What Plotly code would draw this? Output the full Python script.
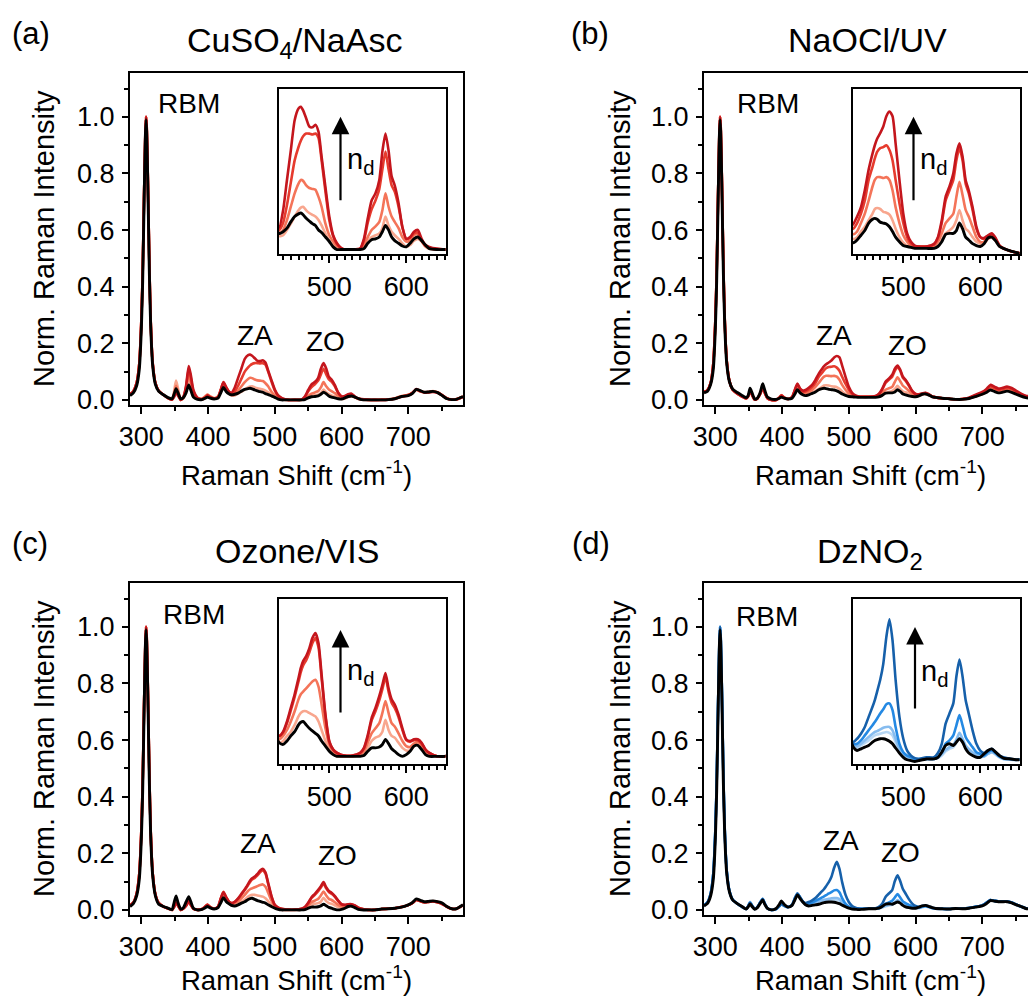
import plotly.graph_objects as go

W, H = 1028, 997

# ---------------- data ----------------
RAMAN_SHIFT = [283, 288, 293, 297, 300, 302, 304, 306, 307, 308, 310, 312, 314, 317, 321, 326, 333, 340, 346,
               349, 352, 355, 359, 363, 367, 371, 374, 378, 384, 391, 396, 399, 403, 409, 415, 419, 423, 427, 431, 435,
               440, 445, 450, 455, 460, 463, 466, 470, 474, 478, 482, 486, 490, 495, 500, 505, 510, 515, 520, 530, 540,
               545, 550, 555, 560, 565, 569, 573, 577, 581, 585, 590, 595, 600, 605, 610, 615, 620, 625, 630, 640, 650,
               660, 670, 680, 690, 700, 706, 712, 718, 724, 730, 737, 744, 751, 758, 765, 772, 782]

# (a) CuSO4/NaAsc
A_LIGHT = [0.02, 0.03, 0.06, 0.13, 0.28, 0.45, 0.71, 0.94, 1.0, 0.97, 0.75, 0.48, 0.28, 0.13, 0.06, 0.032, 0.018, 0.006, 0.001,
           0.03, 0.068, 0.04, 0.0, 0.006, 0.035, 0.08, 0.055, 0.02, 0.005, 0.004, 0.014, 0.02, 0.013, 0.006, 0.012, 0.033, 0.057, 0.04, 0.025, 0.015,
           0.016, 0.022, 0.029, 0.037, 0.044, 0.047, 0.048, 0.044, 0.041, 0.039, 0.037, 0.033, 0.027, 0.018, 0.01, 0.005, 0.002, 0.0, 0.0, 0.0, 0.0,
           0.003, 0.009, 0.014, 0.016, 0.018, 0.024, 0.037, 0.027, 0.02, 0.016, 0.012, 0.007, 0.003, 0.005, 0.01, 0.012, 0.009, 0.003, 0.001, 0.0, 0.0,
           0.001, 0.002, 0.006, 0.014, 0.018, 0.025, 0.036, 0.03, 0.028, 0.029, 0.031, 0.027, 0.016, 0.006, 0.002, 0.003, 0.012]
A_SALMON = [0.02, 0.03, 0.06, 0.13, 0.28, 0.45, 0.71, 0.94, 1.0, 0.97, 0.75, 0.48, 0.28, 0.13, 0.06, 0.032, 0.018, 0.006, 0.001,
            0.02, 0.05, 0.03, 0.0, 0.008, 0.04, 0.095, 0.065, 0.025, 0.006, 0.004, 0.012, 0.018, 0.012, 0.006, 0.012, 0.035, 0.06, 0.042, 0.028, 0.018,
            0.022, 0.033, 0.048, 0.063, 0.074, 0.078, 0.077, 0.072, 0.069, 0.068, 0.067, 0.059, 0.048, 0.029, 0.016, 0.009, 0.004, 0.001, 0.0, 0.0, 0.0,
            0.005, 0.014, 0.022, 0.026, 0.031, 0.044, 0.063, 0.048, 0.037, 0.031, 0.024, 0.014, 0.009, 0.01, 0.016, 0.017, 0.01, 0.005, 0.002, 0.0, 0.0,
            0.001, 0.002, 0.005, 0.013, 0.017, 0.024, 0.036, 0.03, 0.027, 0.028, 0.03, 0.026, 0.016, 0.005, 0.001, 0.002, 0.011]
A_RED = [0.02, 0.03, 0.06, 0.13, 0.28, 0.45, 0.71, 0.94, 1.0, 0.97, 0.75, 0.48, 0.28, 0.13, 0.06, 0.032, 0.018, 0.006, 0.001,
         0.012, 0.03, 0.018, 0.0, 0.01, 0.045, 0.11, 0.08, 0.03, 0.007, 0.003, 0.01, 0.016, 0.01, 0.005, 0.01, 0.035, 0.063, 0.045, 0.03, 0.022,
         0.03, 0.05, 0.075, 0.1, 0.115, 0.122, 0.127, 0.13, 0.13, 0.129, 0.13, 0.125, 0.1, 0.065, 0.033, 0.015, 0.006, 0.002, 0.0, 0.0, 0.001,
         0.01, 0.03, 0.045, 0.055, 0.068, 0.09, 0.11, 0.09, 0.072, 0.065, 0.048, 0.025, 0.012, 0.013, 0.018, 0.019, 0.01, 0.004, 0.002, 0.0, 0.0,
         0.0, 0.001, 0.005, 0.012, 0.017, 0.025, 0.037, 0.031, 0.027, 0.027, 0.029, 0.026, 0.016, 0.005, 0.001, 0.002, 0.011]
A_DARK = [0.02, 0.03, 0.06, 0.13, 0.28, 0.45, 0.71, 0.94, 1.0, 0.97, 0.75, 0.48, 0.28, 0.13, 0.06, 0.032, 0.018, 0.006, 0.001,
          0.01, 0.025, 0.015, 0.0, 0.01, 0.05, 0.12, 0.09, 0.035, 0.008, 0.002, 0.008, 0.015, 0.01, 0.005, 0.01, 0.035, 0.062, 0.045, 0.03, 0.025,
          0.044, 0.078, 0.111, 0.145, 0.158, 0.16, 0.156, 0.147, 0.138, 0.137, 0.14, 0.132, 0.104, 0.07, 0.037, 0.016, 0.007, 0.002, 0.0, 0.0, 0.001,
          0.012, 0.035, 0.055, 0.063, 0.078, 0.11, 0.13, 0.111, 0.082, 0.072, 0.052, 0.025, 0.012, 0.014, 0.02, 0.022, 0.012, 0.005, 0.003, 0.001, 0.0,
          0.0, 0.001, 0.004, 0.011, 0.016, 0.024, 0.038, 0.031, 0.026, 0.026, 0.028, 0.025, 0.016, 0.005, 0.001, 0.002, 0.01]
A_BLACK = [0.015, 0.025, 0.05, 0.11, 0.25, 0.42, 0.68, 0.93, 0.99, 0.95, 0.72, 0.45, 0.26, 0.12, 0.055, 0.03, 0.018, 0.008, 0.004,
           0.02, 0.04, 0.025, 0.004, 0.008, 0.025, 0.053, 0.035, 0.01, 0.002, 0.001, 0.006, 0.01, 0.006, 0.003, 0.006, 0.025, 0.044, 0.03, 0.022, 0.018,
           0.02, 0.024, 0.031, 0.037, 0.04, 0.041, 0.039, 0.035, 0.032, 0.029, 0.027, 0.022, 0.019, 0.014, 0.009, 0.003, 0.0, 0.0, 0.0, 0.0, 0.0,
           0.001, 0.007, 0.011, 0.012, 0.014, 0.02, 0.027, 0.022, 0.014, 0.01, 0.007, 0.004, 0.003, 0.007, 0.012, 0.014, 0.01, 0.005, 0.001, 0.0, 0.0,
           0.0, 0.001, 0.004, 0.012, 0.015, 0.022, 0.037, 0.033, 0.027, 0.028, 0.03, 0.026, 0.015, 0.004, 0.001, 0.002, 0.012]

# (b) NaOCl/UV
B_LIGHT = [0.028, 0.034, 0.06, 0.13, 0.28, 0.45, 0.71, 0.94, 1.0, 0.97, 0.75, 0.48, 0.29, 0.14, 0.068, 0.036, 0.022, 0.012, 0.005,
           0.013, 0.032, 0.019, 0.001, 0.005, 0.022, 0.046, 0.028, 0.007, 0.0, 0.0, 0.01, 0.017, 0.009, 0.003, 0.01, 0.028, 0.045, 0.032, 0.022, 0.019,
           0.021, 0.027, 0.032, 0.039, 0.046, 0.051, 0.052, 0.051, 0.048, 0.047, 0.045, 0.039, 0.03, 0.021, 0.015, 0.012, 0.011, 0.011, 0.011, 0.011, 0.011,
           0.012, 0.018, 0.025, 0.028, 0.032, 0.039, 0.05, 0.039, 0.03, 0.027, 0.021, 0.016, 0.014, 0.014, 0.019, 0.021, 0.017, 0.011, 0.009, 0.006, 0.004,
           0.002, 0.002, 0.005, 0.013, 0.02, 0.028, 0.038, 0.033, 0.028, 0.03, 0.034, 0.03, 0.023, 0.015, 0.01, 0.008, 0.007]
B_SALMON = [0.028, 0.034, 0.06, 0.13, 0.28, 0.45, 0.71, 0.94, 1.0, 0.97, 0.75, 0.48, 0.29, 0.14, 0.068, 0.036, 0.022, 0.012, 0.005,
            0.012, 0.03, 0.018, 0.001, 0.005, 0.02, 0.044, 0.027, 0.007, 0.0, 0.0, 0.009, 0.016, 0.009, 0.003, 0.01, 0.03, 0.05, 0.035, 0.025, 0.024,
            0.027, 0.036, 0.046, 0.06, 0.075, 0.082, 0.085, 0.085, 0.084, 0.085, 0.082, 0.071, 0.053, 0.036, 0.023, 0.016, 0.012, 0.011, 0.011, 0.011, 0.012,
            0.016, 0.025, 0.036, 0.041, 0.046, 0.064, 0.08, 0.066, 0.05, 0.043, 0.032, 0.021, 0.016, 0.016, 0.021, 0.023, 0.018, 0.012, 0.009, 0.006, 0.004,
            0.002, 0.003, 0.006, 0.014, 0.022, 0.03, 0.042, 0.037, 0.032, 0.034, 0.038, 0.034, 0.026, 0.018, 0.012, 0.01, 0.008]
B_RED = [0.028, 0.034, 0.06, 0.13, 0.28, 0.45, 0.71, 0.94, 1.0, 0.97, 0.75, 0.48, 0.29, 0.14, 0.068, 0.036, 0.022, 0.012, 0.005,
         0.012, 0.03, 0.018, 0.001, 0.005, 0.02, 0.042, 0.025, 0.006, 0.0, 0.0, 0.008, 0.015, 0.008, 0.003, 0.01, 0.033, 0.055, 0.038, 0.03, 0.03,
         0.036, 0.046, 0.06, 0.082, 0.096, 0.105, 0.112, 0.116, 0.117, 0.119, 0.114, 0.103, 0.082, 0.057, 0.036, 0.021, 0.014, 0.011, 0.011, 0.011, 0.013,
         0.02, 0.036, 0.06, 0.071, 0.082, 0.103, 0.116, 0.103, 0.078, 0.068, 0.05, 0.03, 0.021, 0.019, 0.022, 0.024, 0.019, 0.012, 0.009, 0.006, 0.004,
         0.002, 0.003, 0.007, 0.016, 0.025, 0.035, 0.048, 0.042, 0.036, 0.038, 0.042, 0.038, 0.029, 0.02, 0.013, 0.011, 0.009]
B_DARK = [0.028, 0.034, 0.06, 0.13, 0.28, 0.45, 0.71, 0.94, 1.0, 0.97, 0.75, 0.48, 0.29, 0.14, 0.068, 0.036, 0.022, 0.012, 0.005,
          0.012, 0.03, 0.018, 0.001, 0.005, 0.02, 0.042, 0.025, 0.006, 0.0, 0.0, 0.008, 0.015, 0.008, 0.003, 0.01, 0.035, 0.058, 0.04, 0.033, 0.035,
          0.043, 0.053, 0.071, 0.093, 0.11, 0.119, 0.126, 0.132, 0.139, 0.15, 0.155, 0.15, 0.121, 0.082, 0.046, 0.025, 0.016, 0.012, 0.011, 0.011, 0.014,
          0.021, 0.039, 0.064, 0.075, 0.089, 0.11, 0.121, 0.107, 0.082, 0.071, 0.053, 0.032, 0.021, 0.02, 0.023, 0.025, 0.02, 0.012, 0.009, 0.006, 0.004,
          0.002, 0.003, 0.008, 0.018, 0.028, 0.038, 0.053, 0.047, 0.04, 0.042, 0.047, 0.042, 0.032, 0.022, 0.015, 0.012, 0.01]
B_BLACK = [0.025, 0.03, 0.055, 0.11, 0.25, 0.42, 0.68, 0.93, 0.99, 0.95, 0.72, 0.45, 0.27, 0.13, 0.065, 0.038, 0.026, 0.016, 0.008,
           0.015, 0.041, 0.025, 0.003, 0.006, 0.025, 0.057, 0.035, 0.01, 0.003, 0.002, 0.006, 0.01, 0.006, 0.003, 0.006, 0.02, 0.036, 0.025, 0.018, 0.015,
           0.018, 0.023, 0.028, 0.036, 0.04, 0.041, 0.04, 0.037, 0.036, 0.035, 0.032, 0.027, 0.021, 0.016, 0.012, 0.011, 0.01, 0.009, 0.009, 0.009, 0.009,
           0.011, 0.016, 0.024, 0.025, 0.025, 0.028, 0.036, 0.03, 0.021, 0.018, 0.014, 0.012, 0.011, 0.014, 0.02, 0.021, 0.017, 0.011, 0.009, 0.006, 0.004,
           0.002, 0.002, 0.005, 0.012, 0.02, 0.026, 0.035, 0.03, 0.025, 0.027, 0.031, 0.027, 0.02, 0.013, 0.008, 0.006, 0.005]

# (c) Ozone/VIS
C_LIGHT = [0.016, 0.026, 0.058, 0.13, 0.28, 0.45, 0.71, 0.94, 1.0, 0.97, 0.75, 0.48, 0.28, 0.13, 0.055, 0.024, 0.012, 0.005, 0.0,
           0.013, 0.03, 0.017, 0.0, 0.005, 0.017, 0.034, 0.021, 0.004, 0.0, 0.003, 0.013, 0.019, 0.011, 0.004, 0.011, 0.034, 0.055, 0.038, 0.024, 0.016,
           0.018, 0.024, 0.029, 0.037, 0.047, 0.051, 0.053, 0.053, 0.051, 0.049, 0.047, 0.041, 0.031, 0.018, 0.008, 0.003, 0.0, 0.0, 0.0, 0.0, 0.001,
           0.004, 0.01, 0.018, 0.022, 0.024, 0.029, 0.043, 0.031, 0.024, 0.022, 0.016, 0.01, 0.007, 0.007, 0.012, 0.015, 0.012, 0.006, 0.003, 0.0, 0.0,
           0.003, 0.004, 0.006, 0.011, 0.018, 0.025, 0.036, 0.032, 0.028, 0.029, 0.031, 0.028, 0.022, 0.012, 0.004, 0.004, 0.017]
C_SALMON = [0.016, 0.026, 0.058, 0.13, 0.28, 0.45, 0.71, 0.94, 1.0, 0.97, 0.75, 0.48, 0.28, 0.13, 0.055, 0.024, 0.012, 0.005, 0.0,
            0.012, 0.028, 0.016, 0.0, 0.005, 0.016, 0.032, 0.02, 0.004, 0.0, 0.003, 0.013, 0.019, 0.011, 0.004, 0.012, 0.038, 0.06, 0.042, 0.028, 0.02,
            0.024, 0.031, 0.041, 0.053, 0.067, 0.073, 0.076, 0.08, 0.084, 0.088, 0.09, 0.082, 0.061, 0.033, 0.014, 0.006, 0.002, 0.0, 0.0, 0.0, 0.002,
            0.006, 0.016, 0.027, 0.033, 0.039, 0.051, 0.065, 0.051, 0.039, 0.035, 0.027, 0.018, 0.012, 0.011, 0.015, 0.017, 0.013, 0.006, 0.003, 0.0, 0.0,
            0.003, 0.004, 0.006, 0.01, 0.017, 0.024, 0.035, 0.031, 0.027, 0.028, 0.03, 0.027, 0.021, 0.011, 0.004, 0.004, 0.016]
C_RED = [0.016, 0.026, 0.058, 0.13, 0.28, 0.45, 0.71, 0.94, 1.0, 0.97, 0.75, 0.48, 0.28, 0.13, 0.055, 0.024, 0.012, 0.005, 0.0,
         0.01, 0.025, 0.015, 0.0, 0.005, 0.015, 0.03, 0.018, 0.004, 0.0, 0.003, 0.012, 0.018, 0.01, 0.004, 0.012, 0.04, 0.064, 0.045, 0.03, 0.024,
         0.028, 0.039, 0.054, 0.07, 0.088, 0.099, 0.107, 0.113, 0.122, 0.133, 0.139, 0.128, 0.092, 0.047, 0.017, 0.008, 0.004, 0.002, 0.001, 0.001, 0.004,
         0.009, 0.023, 0.042, 0.053, 0.066, 0.079, 0.093, 0.076, 0.063, 0.057, 0.046, 0.031, 0.019, 0.017, 0.019, 0.019, 0.015, 0.008, 0.004, 0.0, 0.0,
         0.003, 0.004, 0.006, 0.01, 0.017, 0.024, 0.035, 0.031, 0.027, 0.028, 0.03, 0.027, 0.021, 0.011, 0.004, 0.004, 0.016]
C_DARK = [0.016, 0.026, 0.058, 0.13, 0.28, 0.45, 0.71, 0.94, 1.0, 0.97, 0.75, 0.48, 0.28, 0.13, 0.055, 0.024, 0.012, 0.005, 0.0,
          0.01, 0.025, 0.015, 0.0, 0.005, 0.015, 0.03, 0.018, 0.004, 0.0, 0.003, 0.012, 0.018, 0.01, 0.004, 0.012, 0.04, 0.062, 0.045, 0.03, 0.024,
          0.029, 0.041, 0.057, 0.073, 0.092, 0.104, 0.112, 0.118, 0.127, 0.139, 0.145, 0.133, 0.096, 0.049, 0.018, 0.008, 0.004, 0.002, 0.001, 0.001, 0.004,
          0.01, 0.025, 0.045, 0.057, 0.071, 0.084, 0.098, 0.08, 0.067, 0.061, 0.049, 0.033, 0.02, 0.018, 0.02, 0.02, 0.016, 0.008, 0.004, 0.0, 0.0,
          0.003, 0.004, 0.006, 0.01, 0.017, 0.024, 0.036, 0.031, 0.027, 0.028, 0.03, 0.027, 0.021, 0.011, 0.004, 0.004, 0.016]
C_BLACK = [0.012, 0.022, 0.05, 0.11, 0.25, 0.42, 0.68, 0.93, 0.99, 0.95, 0.72, 0.45, 0.26, 0.12, 0.05, 0.02, 0.012, 0.006, 0.001,
           0.025, 0.049, 0.025, 0.003, 0.008, 0.028, 0.047, 0.03, 0.006, 0.0, 0.002, 0.008, 0.012, 0.007, 0.003, 0.008, 0.025, 0.043, 0.03, 0.022, 0.016,
           0.014, 0.018, 0.024, 0.029, 0.037, 0.04, 0.041, 0.037, 0.033, 0.03, 0.027, 0.024, 0.018, 0.012, 0.006, 0.002, 0.0, 0.0, 0.0, 0.0, 0.0,
           0.001, 0.006, 0.01, 0.01, 0.011, 0.014, 0.02, 0.015, 0.009, 0.006, 0.002, 0.0, 0.002, 0.006, 0.012, 0.013, 0.008, 0.002, 0.0, 0.0, 0.0,
           0.003, 0.004, 0.006, 0.01, 0.018, 0.026, 0.039, 0.034, 0.029, 0.03, 0.032, 0.029, 0.024, 0.012, 0.004, 0.004, 0.018]

# (d) DzNO2
D_PALE = [0.016, 0.026, 0.058, 0.13, 0.28, 0.45, 0.71, 0.94, 1.0, 0.97, 0.75, 0.48, 0.29, 0.14, 0.068, 0.036, 0.022, 0.011, 0.003,
          0.013, 0.029, 0.017, 0.003, 0.01, 0.026, 0.04, 0.024, 0.006, 0.0, 0.003, 0.013, 0.02, 0.014, 0.01, 0.018, 0.039, 0.057, 0.043, 0.028, 0.019,
          0.017, 0.02, 0.023, 0.026, 0.03, 0.032, 0.033, 0.034, 0.035, 0.036, 0.035, 0.032, 0.024, 0.014, 0.009, 0.006, 0.004, 0.004, 0.004, 0.004, 0.004,
          0.005, 0.008, 0.013, 0.016, 0.018, 0.023, 0.029, 0.024, 0.017, 0.014, 0.011, 0.008, 0.006, 0.007, 0.01, 0.012, 0.009, 0.006, 0.004, 0.003, 0.003,
          0.005, 0.005, 0.007, 0.011, 0.016, 0.025, 0.035, 0.032, 0.03, 0.03, 0.03, 0.026, 0.019, 0.012, 0.006, 0.004, 0.003]
D_LIGHT = [0.016, 0.026, 0.058, 0.13, 0.28, 0.45, 0.71, 0.94, 1.0, 0.97, 0.75, 0.48, 0.29, 0.14, 0.068, 0.036, 0.022, 0.011, 0.003,
           0.013, 0.028, 0.016, 0.003, 0.01, 0.026, 0.039, 0.023, 0.006, 0.0, 0.003, 0.013, 0.021, 0.014, 0.01, 0.018, 0.04, 0.058, 0.044, 0.029, 0.02,
           0.019, 0.022, 0.026, 0.03, 0.034, 0.036, 0.037, 0.039, 0.041, 0.042, 0.042, 0.038, 0.028, 0.016, 0.01, 0.006, 0.005, 0.004, 0.004, 0.004, 0.004,
           0.006, 0.01, 0.015, 0.018, 0.021, 0.027, 0.035, 0.028, 0.02, 0.016, 0.012, 0.009, 0.007, 0.007, 0.01, 0.012, 0.01, 0.006, 0.004, 0.003, 0.003,
           0.005, 0.005, 0.007, 0.011, 0.016, 0.025, 0.035, 0.032, 0.03, 0.03, 0.03, 0.026, 0.019, 0.012, 0.006, 0.004, 0.003]
D_MED = [0.016, 0.026, 0.058, 0.13, 0.28, 0.45, 0.71, 0.94, 1.0, 0.97, 0.75, 0.48, 0.29, 0.14, 0.068, 0.036, 0.022, 0.011, 0.003,
         0.012, 0.026, 0.015, 0.003, 0.01, 0.025, 0.038, 0.022, 0.006, 0.0, 0.003, 0.014, 0.022, 0.015, 0.01, 0.018, 0.04, 0.057, 0.044, 0.03, 0.022,
         0.022, 0.026, 0.032, 0.038, 0.044, 0.048, 0.052, 0.058, 0.063, 0.069, 0.07, 0.062, 0.042, 0.022, 0.012, 0.008, 0.006, 0.004, 0.004, 0.004, 0.004,
         0.006, 0.012, 0.022, 0.026, 0.032, 0.044, 0.056, 0.044, 0.03, 0.024, 0.018, 0.012, 0.01, 0.008, 0.012, 0.014, 0.011, 0.007, 0.005, 0.004, 0.003,
         0.005, 0.005, 0.007, 0.011, 0.016, 0.025, 0.035, 0.032, 0.03, 0.03, 0.03, 0.026, 0.019, 0.012, 0.006, 0.004, 0.003]
D_DARK = [0.016, 0.026, 0.058, 0.13, 0.28, 0.45, 0.71, 0.94, 1.0, 0.97, 0.75, 0.48, 0.29, 0.14, 0.068, 0.036, 0.022, 0.011, 0.003,
          0.012, 0.025, 0.015, 0.003, 0.01, 0.025, 0.038, 0.022, 0.006, 0.0, 0.003, 0.014, 0.022, 0.015, 0.01, 0.018, 0.04, 0.058, 0.045, 0.03, 0.024,
          0.028, 0.034, 0.042, 0.054, 0.066, 0.074, 0.084, 0.098, 0.117, 0.149, 0.17, 0.145, 0.098, 0.054, 0.028, 0.014, 0.008, 0.005, 0.004, 0.006, 0.006,
          0.011, 0.022, 0.046, 0.058, 0.07, 0.102, 0.122, 0.102, 0.074, 0.058, 0.038, 0.022, 0.014, 0.011, 0.014, 0.016, 0.012, 0.008, 0.006, 0.004, 0.003,
          0.005, 0.005, 0.007, 0.011, 0.016, 0.025, 0.035, 0.032, 0.03, 0.03, 0.03, 0.026, 0.019, 0.012, 0.006, 0.004, 0.003]
D_BLACK = [0.014, 0.022, 0.05, 0.11, 0.25, 0.42, 0.68, 0.93, 0.99, 0.95, 0.72, 0.45, 0.27, 0.13, 0.065, 0.035, 0.022, 0.012, 0.003,
           0.01, 0.021, 0.012, 0.002, 0.008, 0.022, 0.035, 0.02, 0.005, 0.0, 0.005, 0.02, 0.032, 0.02, 0.01, 0.016, 0.034, 0.053, 0.04, 0.028, 0.018,
           0.014, 0.016, 0.018, 0.02, 0.024, 0.026, 0.027, 0.028, 0.028, 0.027, 0.025, 0.022, 0.017, 0.011, 0.006, 0.003, 0.002, 0.001, 0.002, 0.004, 0.004,
           0.006, 0.012, 0.02, 0.022, 0.02, 0.024, 0.028, 0.024, 0.016, 0.011, 0.008, 0.006, 0.006, 0.01, 0.014, 0.016, 0.012, 0.008, 0.005, 0.004, 0.003,
           0.005, 0.004, 0.006, 0.01, 0.014, 0.022, 0.033, 0.031, 0.029, 0.029, 0.029, 0.025, 0.018, 0.012, 0.005, 0.003, 0.003]

PANEL_LABELS = ["(a)", "(b)", "(c)", "(d)"]
PANEL_TITLES = ["CuSO<sub>4</sub>/NaAsc", "NaOCl/UV", "Ozone/VIS", "DzNO<sub>2</sub>"]
X_TICKS_MAIN = [300, 400, 500, 600, 700]
Y_TICKS = [0.0, 0.2, 0.4, 0.6, 0.8, 1.0]
X_TICKS_INSET = [500, 600]
X_RANGE = [283, 782]
INSET_X_RANGE = [434, 651]
INSET_Y_RANGES = [[-0.005, 0.18], [0.003, 0.179], [-0.009, 0.185], [-0.002, 0.194]]

RED_COLORS = ["#f8a68e", "#f47459", "#e63b2e", "#c4161d"]
BLUE_COLORS = ["#b7d7f4", "#86bcef", "#2489e3", "#1660aa"]
BLACK = "#000000"

SERIES = [
    ([A_LIGHT, A_SALMON, A_RED, A_DARK, A_BLACK], RED_COLORS + [BLACK]),
    ([B_LIGHT, B_SALMON, B_RED, B_DARK, B_BLACK], RED_COLORS + [BLACK]),
    ([C_LIGHT, C_SALMON, C_RED, C_DARK, C_BLACK], RED_COLORS + [BLACK]),
    ([D_PALE, D_LIGHT, D_MED, D_DARK, D_BLACK], BLUE_COLORS + [BLACK]),
]
for ys, _ in SERIES:
    for y in ys:
        assert len(y) == len(RAMAN_SHIFT), len(y)

# ---------------- layout geometry (pixels) ----------------
FONT = "Liberation Sans, Arial, sans-serif"
COL_LEFT = [130, 704]
ROW_TOP = [73, 583]
MAIN_W, MAIN_H = 333, 332
INS_DX, INS_DY, INS_W, INS_H = 148.5, 16, 167, 165


def pxx(x):
    return x / W


def pyy(y):
    return 1 - y / H


fig = go.Figure()
layout = dict(template="none", width=W, height=H,
              margin=dict(l=0, r=0, t=0, b=0, pad=0, autoexpand=False), showlegend=False,
              paper_bgcolor="white", plot_bgcolor="rgba(0,0,0,0)",
              font=dict(family=FONT, color="black"))

px_per_unit = MAIN_W / (X_RANGE[1] - X_RANGE[0])

for i, (ys, cols) in enumerate(SERIES):
    r, c = divmod(i, 2)
    left, top = COL_LEFT[c], ROW_TOP[r]
    right = min(W, left + MAIN_W)
    x_end = X_RANGE[0] + (right - left) / px_per_unit
    mi = i + 1
    ii = i + 5
    mx = "x" if mi == 1 else f"x{mi}"
    my = "y" if mi == 1 else f"y{mi}"
    ix, iy = f"x{ii}", f"y{ii}"

    for y, colr in zip(ys, cols):
        lw = 2.9 if colr == BLACK else 2.6
        for xa, ya in ((mx, my), (ix, iy)):
            fig.add_trace(go.Scatter(x=RAMAN_SHIFT, y=y, mode="lines",
                                     line=dict(color=colr, width=lw, shape="spline", smoothing=0.6),
                                     xaxis=xa, yaxis=ya, hoverinfo="skip"))

    tick_common = dict(showline=True, linewidth=2.2, linecolor="black", ticks="outside",
                       tickwidth=2, tickcolor="black", showgrid=False, zeroline=False, automargin=False,
                       tickfont=dict(family=FONT, size=27, color="black"), fixedrange=True)
    layout["xaxis" if mi == 1 else f"xaxis{mi}"] = dict(
        domain=[pxx(left), pxx(right)], range=[X_RANGE[0], x_end], anchor=my, mirror=True,
        tickvals=X_TICKS_MAIN, ticktext=[str(v) for v in X_TICKS_MAIN], ticklen=7,
        ticklabelstandoff=-1,
        minor=dict(tick0=0, dtick=50, ticks="outside", ticklen=4, tickwidth=2, tickcolor="black"),
        **tick_common)
    layout["yaxis" if mi == 1 else f"yaxis{mi}"] = dict(
        domain=[pyy(top + MAIN_H), pyy(top)], range=[-0.018, 1.155], anchor=mx,
        mirror=(right - left) >= MAIN_W,
        tickvals=Y_TICKS, ticktext=[f"{v:.1f}" for v in Y_TICKS], ticklen=6,
        ticklabelstandoff=2,
        minor=dict(tick0=0, dtick=0.1, ticks="outside", ticklen=4, tickwidth=2, tickcolor="black"),
        **tick_common)

    il, it = left + INS_DX, top + INS_DY
    layout[f"xaxis{ii}"] = dict(
        domain=[pxx(il), pxx(il + INS_W)], range=INSET_X_RANGE, anchor=iy, mirror=True,
        tickvals=X_TICKS_INSET, ticktext=[str(v) for v in X_TICKS_INSET], ticklen=7,
        ticklabelstandoff=0,
        minor=dict(tick0=0, dtick=10, ticks="outside", ticklen=4, tickwidth=2, tickcolor="black"),
        **tick_common)
    layout[f"yaxis{ii}"] = dict(
        domain=[pyy(it + INS_H), pyy(it)], range=INSET_Y_RANGES[i], anchor=ix, mirror=True,
        showline=True, linewidth=2.2, linecolor="black", ticks="", showticklabels=False,
        showgrid=False, zeroline=False, automargin=False, fixedrange=True)

fig.update_layout(**layout)

# ---------------- text ----------------
LABEL_POS = [(31, 33), (590, 33), (30, 543), (591, 543)]
TITLE_POS = [(294, 42.5), (867.5, 40), (296.5, 551), (870, 553)]
RBM_POS = [(188.5, 103), (767.5, 104), (193.5, 614), (767, 616)]
ZA_POS = [(255, 335), (833.5, 335), (258, 843), (840.5, 840)]
ZO_POS = [(325.5, 341), (907.5, 346), (337.5, 855), (900, 852.5)]
ARROW_X = [340.5, 913.5, 340.5, 915]
ARROW_TIP = [116.7, 116.7, 630, 627]
ARROW_TAIL = [201.7, 201.7, 714, 710]
ND_POS = [(346, 161), (919, 161), (346, 672), (920, 673)]
# x-axis titles: (x centre, y of bottom edge of text box)
XTITLE_POS = [(296.5, 492), (870.5, 492), (296.5, 997), (870.5, 997)]
YTITLE_POS = [(44, 239), (620, 239), (44, 749), (620, 749)]

ann = []
for i in range(4):
    def txt(pos, text, size, xanchor="center", angle=0, yanchor="middle"):
        ann.append(dict(x=pxx(pos[0]), y=pyy(pos[1]), xref="paper", yref="paper", text=text,
                        showarrow=False, xanchor=xanchor, yanchor=yanchor, textangle=angle,
                        borderpad=0, font=dict(family=FONT, size=size, color="black")))
    txt(LABEL_POS[i], PANEL_LABELS[i], 31)
    txt(TITLE_POS[i], PANEL_TITLES[i], 34)
    txt(RBM_POS[i], "RBM", 28)
    txt(ZA_POS[i], "ZA", 28)
    txt(ZO_POS[i], "ZO", 28)
    txt(ND_POS[i], "n<sub>d</sub>", 29, xanchor="left")
    txt(XTITLE_POS[i], "Raman Shift (cm<sup>-1</sup>)", 27.5, yanchor="bottom")
    txt(YTITLE_POS[i], "Norm. Raman Intensity", 29, angle=-90)
    ann.append(dict(x=pxx(ARROW_X[i]), y=pyy(ARROW_TIP[i]), xref="paper", yref="paper", text="",
                    showarrow=True, ax=0, ay=ARROW_TAIL[i] - ARROW_TIP[i], axref="pixel", ayref="pixel",
                    arrowhead=2, arrowsize=1.6, arrowwidth=2.2, arrowcolor="black", standoff=0))

fig.update_layout(annotations=ann)

fig.write_html("out.html", config={"displayModeBar": False},
               post_script="document.body.style.margin='0';")
